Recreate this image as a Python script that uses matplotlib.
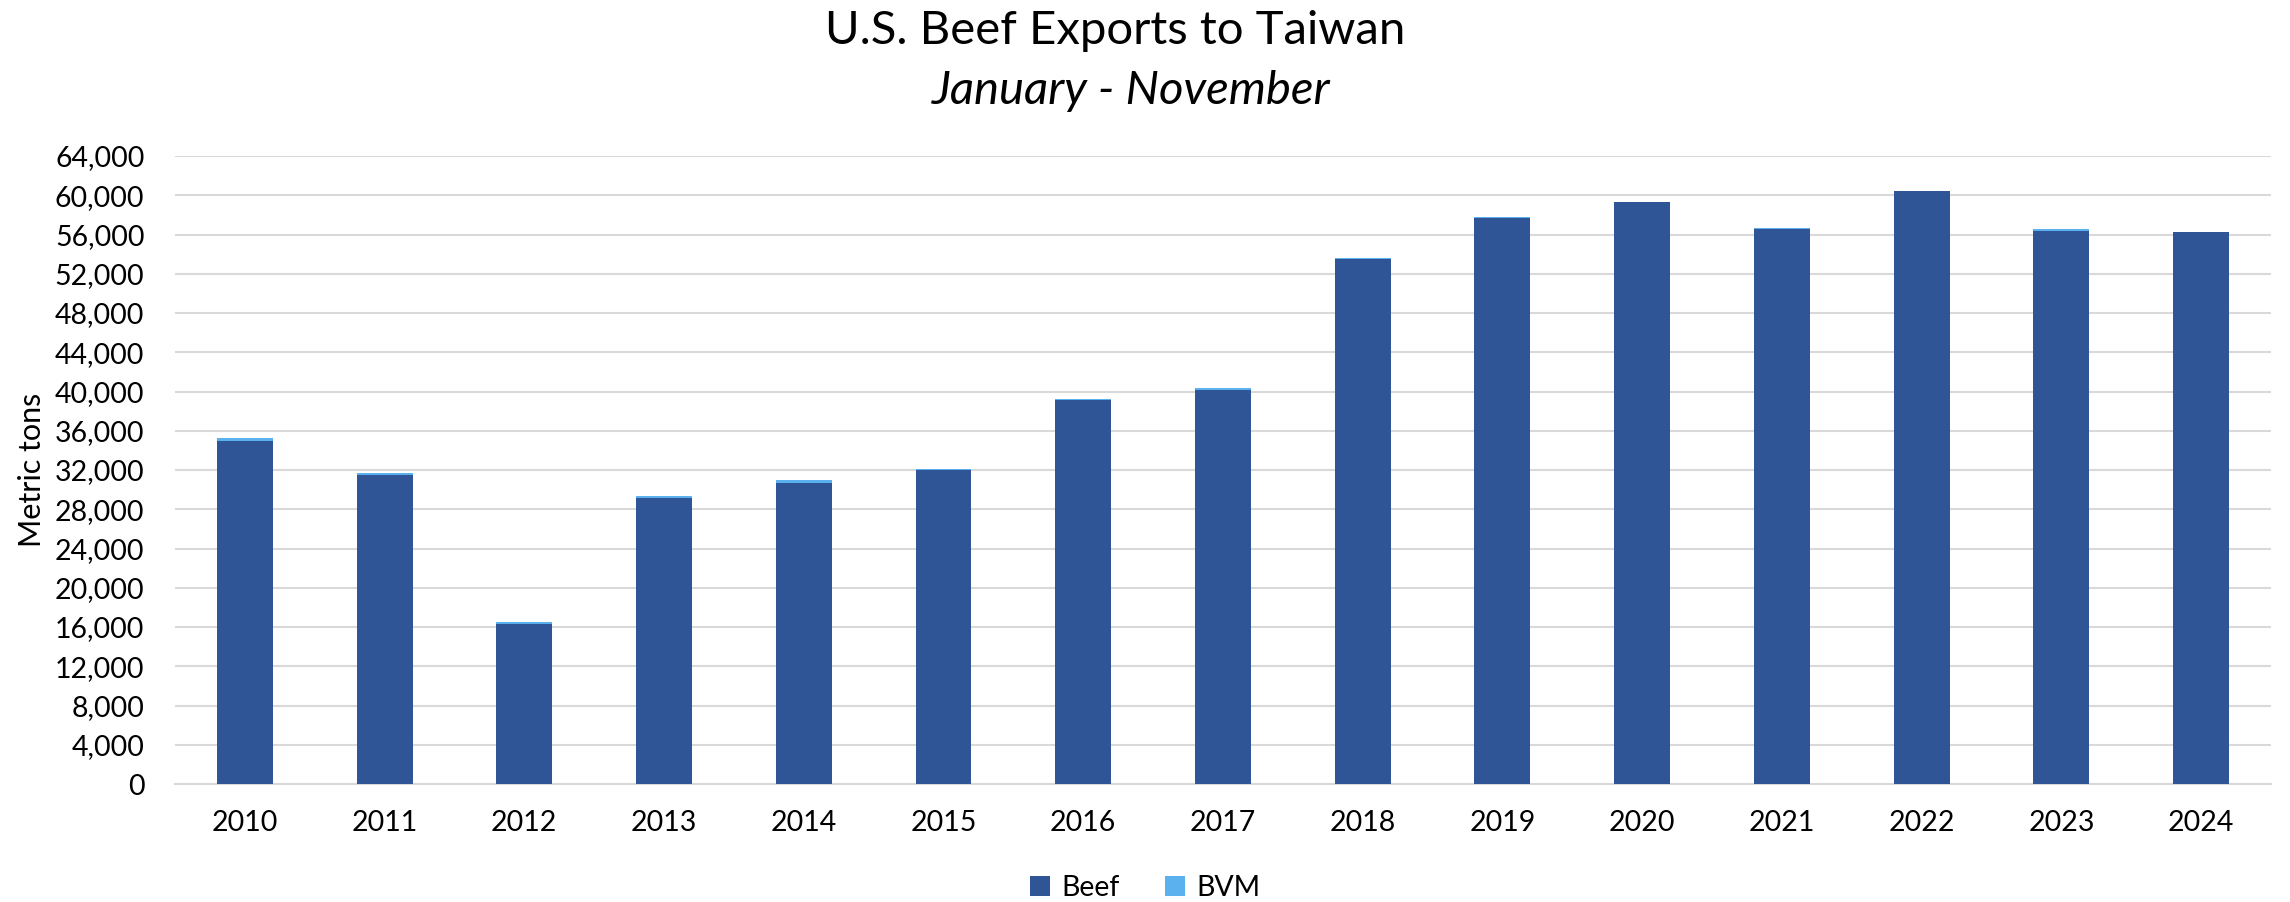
import matplotlib

matplotlib.use("Agg")
import matplotlib.pyplot as plt
import numpy as np
from matplotlib.ticker import FuncFormatter

YEARS = [str(y) for y in range(2010, 2025)]
BEEF = [34930, 31490, 16300, 29120, 30710, 31960, 39110, 40130,
        53550, 57730, 59300, 56580, 60400, 56330, 56270]
BVM = [330, 200, 170, 200, 300, 170, 180, 270,
       70, 70, 50, 100, 50, 280, 40]

BEEF_COLOR = "#2F5597"
BVM_COLOR = "#5BB0EE"

plt.rcParams["font.family"] = ["Lato", "DejaVu Sans"]

fig = plt.figure(figsize=(22.9, 9.02), dpi=100)
ax = fig.add_axes([0.0764, 0.1308, 0.9153, 0.6962])

x = np.arange(len(YEARS))
ax.bar(x, BEEF, width=0.4, color=BEEF_COLOR, label="Beef", zorder=3)
ax.bar(x, BVM, width=0.4, bottom=BEEF, color=BVM_COLOR, label="BVM", zorder=3)

ax.set_xlim(-0.5, len(YEARS) - 0.5)
ax.set_ylim(0, 64000)
ax.set_yticks(np.arange(0, 64001, 4000))
ax.yaxis.set_major_formatter(FuncFormatter(lambda v, _: f"{int(v):,}"))
ax.set_xticks(x)
ax.set_xticklabels(YEARS)
ax.tick_params(axis="both", length=0, labelsize=20.5, colors="#000000")
ax.tick_params(axis="x", pad=19)
ax.tick_params(axis="y", pad=22)
ax.grid(True, axis="y", color="#D9D9D9", linewidth=1.5, zorder=0)
for side in ("top", "right", "left"):
    ax.spines[side].set_visible(False)
ax.spines["bottom"].set_color("#D9D9D9")
ax.spines["bottom"].set_linewidth(1.5)
ax.set_ylabel("Metric tons", fontsize=22, labelpad=6)

fig.text(0.487, 0.966, "U.S. Beef Exports to Taiwan", ha="center", va="center",
         fontsize=34)
fig.text(0.494, 0.899, "January - November", ha="center", va="center",
         fontsize=34, style="italic")

fig.legend(loc="lower center", bbox_to_anchor=(0.5, -0.027), ncol=2,
           frameon=False, fontsize=20.5, handlelength=0.7, handleheight=0.7,
           columnspacing=1.6, handletextpad=0.4)

fig.savefig("out.png", dpi=100)
